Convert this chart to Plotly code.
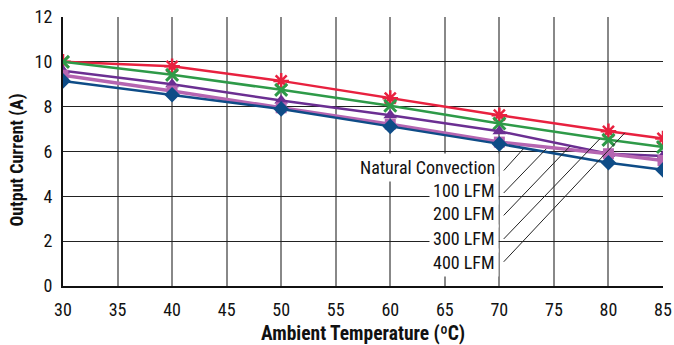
import plotly.graph_objects as go

# Derating curves
temps = [30, 40, 50, 60, 70, 80, 85]
lfm400 = [10.0, 9.8, 9.15, 8.38, 7.62, 6.9, 6.58]
lfm300 = [10.0, 9.42, 8.75, 8.04, 7.25, 6.52, 6.2]
lfm200 = [9.6, 9.0, 8.27, 7.62, 6.9, 5.9, 5.8]
lfm100 = [9.4, 8.7, 7.95, 7.22, 6.42, 5.9, 5.6]
natural = [9.15, 8.53, 7.9, 7.12, 6.34, 5.5, 5.18]

label_names = ["Natural Convection", "100 LFM", "200 LFM", "300 LFM", "400 LFM"]
label_y = [5.27, 4.28, 3.22, 2.12, 1.07]
# leader line end points (x0, y0, x1, y1) in data units
leaders = [
    (70.4, 5.15, 72.2, 6.12),
    (70.4, 4.15, 74.3, 6.12),
    (70.4, 3.15, 76.5, 6.25),
    (70.4, 2.1, 79.2, 6.56),
    (70.4, 1.08, 81.5, 6.83),
]

FONT = "'Liberation Sans Narrow', 'Arial Narrow', 'Roboto Condensed', sans-serif"

series = [
    (lfm400, "#E8213F", "asterisk-open", 13, 2.5, 2.5),
    (lfm300, "#2E9A48", "x-thin-open", 12, 3, 2.5),
    (lfm200, "#6B2F92", "triangle-up", 12, 0, 2.5),
    (lfm100, "#B565B1", "square", 11, 0, 3.5),
    (natural, "#0E4C87", "diamond", 12, 0, 2.5),
]

fig = go.Figure()
for ys, color, sym, size, mlw, lw in series:
    fig.add_trace(go.Scatter(
        x=temps, y=ys, mode="lines+markers",
        line=dict(color=color, width=lw),
        marker=dict(symbol=sym, size=size, color=color,
                    line=dict(color=color, width=mlw)),
        showlegend=False,
    ))

for name, y in zip(label_names, label_y):
    fig.add_annotation(
        x=70.0, y=y, text=name, showarrow=False,
        xanchor="right", yanchor="middle",
        bgcolor="white", borderpad=3,
        font=dict(family=FONT, size=18, color="#111"),
    )

for x0, y0, x1, y1 in leaders:
    fig.add_shape(type="line", x0=x0, y0=y0, x1=x1, y1=y1,
                  line=dict(color="#222", width=1), layer="above")

# y title as an annotation so it can sit a little below centre
fig.add_annotation(
    x=-0.076, y=0.468, xref="paper", yref="paper",
    text="<b>Output Current (A)</b>", textangle=-90, showarrow=False,
    xanchor="center", yanchor="middle",
    font=dict(family=FONT, size=18, color="#111"),
)

fig.update_layout(
    width=674, height=345,
    margin=dict(l=63, r=11, t=17, b=59),
    paper_bgcolor="white", plot_bgcolor="white",
    font=dict(family=FONT, size=18, color="#111"),
)
fig.update_xaxes(
    range=[30, 85], dtick=5, tick0=30,
    showgrid=True, gridcolor="#888", gridwidth=1.5,
    showline=True, linecolor="#111", linewidth=2,
    ticks="", ticklabelstandoff=6, automargin=False,
    ticklabeloverflow="allow",
    title=dict(text="<b>Ambient Temperature (ºC)</b>", font=dict(size=19.5), standoff=8),
    zeroline=False,
)
fig.update_yaxes(
    range=[0, 12], dtick=2,
    showgrid=True, gridcolor="#222", gridwidth=1,
    showline=True, linecolor="#111", linewidth=2,
    ticks="", ticklabelstandoff=5, automargin=False,
    ticklabeloverflow="allow",
    zeroline=False,
)

# drop the default page margin so the figure sits at the window's corner
fig.write_html("out.html", config={"displayModeBar": False},
               post_script="document.body.style.margin='0';")
